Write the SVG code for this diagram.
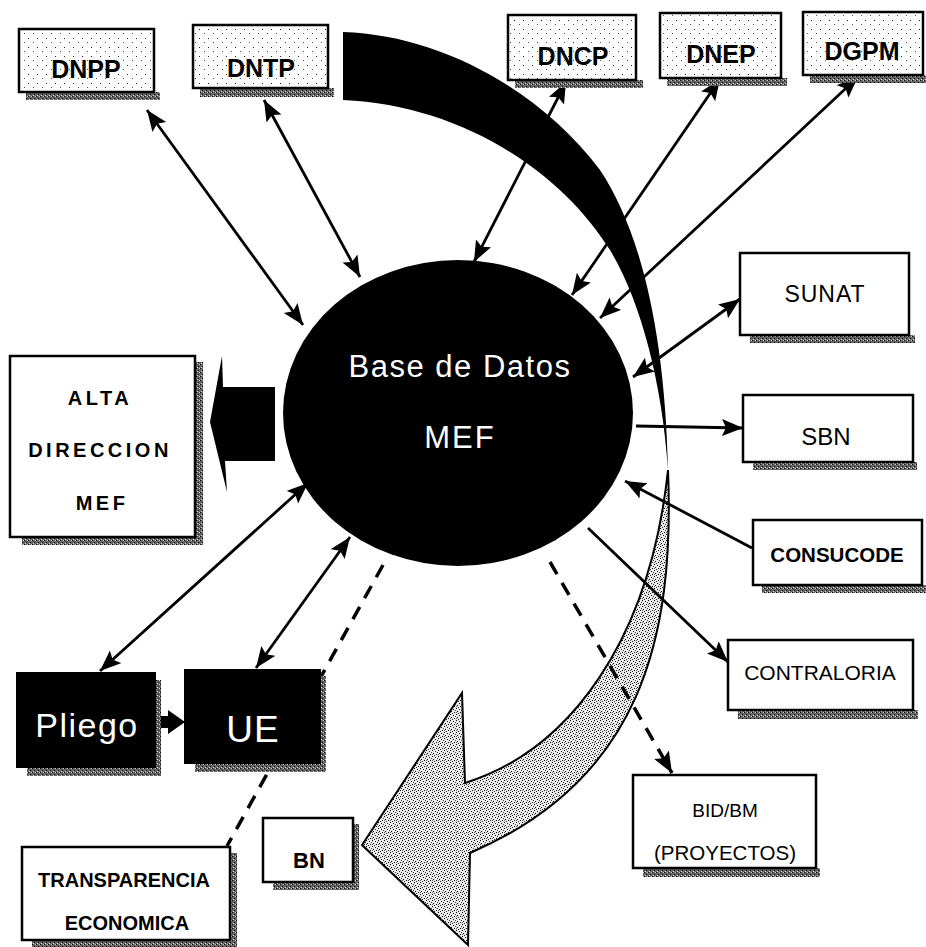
<svg xmlns="http://www.w3.org/2000/svg" width="926" height="947" viewBox="0 0 926 947">
<style>
.box{fill:#fff;stroke:#000;stroke-width:2.5}
.sbox{fill:url(#speck);stroke:#000;stroke-width:2.5}
.dark{fill:#000;stroke:#000;stroke-width:2}
.shadow{fill:url(#shade)}
.lbl{font-family:"Liberation Sans",Arial,sans-serif;fill:#000;text-anchor:middle}
.b{font-weight:bold}
.wt{font-family:"Liberation Sans",Arial,sans-serif;fill:#fff;text-anchor:middle}
.con{stroke:#000;stroke-width:2.8;fill:none}
.dash{stroke:#000;stroke-width:3.5;fill:none;stroke-dasharray:14 10}
</style>
<defs>
<marker id="ah" markerUnits="userSpaceOnUse" markerWidth="24" markerHeight="20" refX="21" refY="8.5" orient="auto-start-reverse">
<path d="M0,0 L21,8.5 L0,17 L4,8.5 z" fill="#000"/>
</marker>
<pattern id="speck" width="9" height="9" patternUnits="userSpaceOnUse">
<rect width="9" height="9" fill="#fff"/>
<rect x="1" y="2" width="1" height="1" fill="#222"/>
<rect x="6" y="6" width="1" height="1" fill="#555"/>
</pattern>
<pattern id="grain" width="6" height="6" patternUnits="userSpaceOnUse">
<rect width="6" height="6" fill="#e8e8e8"/>
<rect x="0" y="0" width="1" height="1" fill="#000"/>
<rect x="3" y="1" width="1" height="1" fill="#222"/>
<rect x="1" y="3" width="1" height="1" fill="#111"/>
<rect x="4" y="4" width="1" height="1" fill="#000"/>
<rect x="5" y="2" width="1" height="1" fill="#444"/>
<rect x="2" y="5" width="1" height="1" fill="#333"/>
<rect x="0" y="4" width="1" height="1" fill="#666"/>
</pattern>
<pattern id="shade" width="4" height="4" patternUnits="userSpaceOnUse">
<rect width="4" height="4" fill="#666"/>
<rect x="0" y="0" width="1" height="1" fill="#000"/>
<rect x="2" y="2" width="1" height="1" fill="#000"/>
<rect x="3" y="0" width="1" height="1" fill="#ccc"/>
<rect x="1" y="3" width="1" height="1" fill="#ddd"/>
</pattern>
</defs>

<g id="ribbon">
<path d="M343,32 C440,35 540,90 600,170 C640,230 665,330 668,470 C662,380 640,300 610,250 C560,170 460,105 343,100 Z" fill="#000"/>
<path d="M668,470 C675,640 640,780 470,853 L468,945 L362,845 L462,693 L465,783 C570,750 650,640 668,470 Z" fill="url(#grain)" stroke="#000" stroke-width="2"/>
</g>

<g id="connectors">
<line class="con" x1="303" y1="325" x2="147" y2="110" marker-start="url(#ah)" marker-end="url(#ah)"/>
<line class="con" x1="360" y1="277" x2="264" y2="100" marker-start="url(#ah)" marker-end="url(#ah)"/>
<line class="con" x1="474" y1="262" x2="566" y2="82" marker-start="url(#ah)" marker-end="url(#ah)"/>
<line class="con" x1="572" y1="295" x2="720" y2="79" marker-start="url(#ah)" marker-end="url(#ah)"/>
<line class="con" x1="600" y1="318" x2="858" y2="77" marker-start="url(#ah)" marker-end="url(#ah)"/>
<line class="con" x1="633" y1="377" x2="740" y2="299" marker-start="url(#ah)" marker-end="url(#ah)"/>
<line class="con" x1="636" y1="426" x2="743" y2="428" marker-end="url(#ah)"/>
<line class="con" x1="752" y1="548" x2="625" y2="481" marker-end="url(#ah)"/>
<line class="con" x1="588" y1="528" x2="728" y2="662" marker-end="url(#ah)"/>
<line class="dash" x1="550" y1="562" x2="672" y2="773" marker-end="url(#ah)"/>
<line class="con" x1="350" y1="537" x2="256" y2="668" marker-start="url(#ah)" marker-end="url(#ah)"/>
<line class="con" x1="308" y1="483" x2="100" y2="671" marker-start="url(#ah)" marker-end="url(#ah)"/>
<line class="dash" x1="383" y1="565" x2="227" y2="846"/>
<path d="M155,716 L168,716 L168,710 L185,722 L168,734 L168,728 L155,728 Z" fill="#000"/>
<path d="M275,387 L223,387 L222,356 L210,422 L227,492 L225,461 L275,461 Z" fill="#000"/>
</g>

<g id="base-datos">
<ellipse cx="458" cy="413" rx="175" ry="153" fill="#000"/>
<text class="wt" x="460" y="377" font-size="31" letter-spacing="1.5">Base de Datos</text>
<text class="wt" x="460" y="448" font-size="31" letter-spacing="2">MEF</text>
</g>

<g id="dnpp"><rect class="shadow" x="26" y="92" width="134" height="8"/><rect class="sbox" x="19" y="29" width="135" height="63"/><text class="lbl b" x="86" y="78" font-size="25">DNPP</text></g>
<g id="dntp"><rect class="shadow" x="200" y="88" width="134" height="9"/><rect class="sbox" x="193" y="25" width="135" height="63"/><text class="lbl b" x="261" y="77" font-size="25">DNTP</text></g>
<g id="dncp"><rect class="shadow" x="515" y="80" width="128" height="8"/><rect class="sbox" x="508" y="15" width="128" height="65"/><text class="lbl b" x="573" y="65" font-size="25">DNCP</text></g>
<g id="dnep"><rect class="shadow" x="667" y="78" width="120" height="8"/><rect class="sbox" x="660" y="13" width="121" height="65"/><text class="lbl b" x="721" y="63" font-size="25">DNEP</text></g>
<g id="dgpm"><rect class="shadow" x="810" y="75" width="116" height="8"/><rect class="sbox" x="803" y="12" width="120" height="63"/><text class="lbl b" x="862" y="60" font-size="25">DGPM</text></g>

<g id="sunat"><rect class="shadow" x="750" y="335" width="165" height="8"/><rect class="box" x="740" y="253" width="169" height="82"/><text class="lbl" x="825" y="302" font-size="23" letter-spacing="1">SUNAT</text></g>
<g id="sbn"><rect class="shadow" x="753" y="462" width="164" height="8"/><rect class="box" x="743" y="395" width="170" height="67"/><text class="lbl" x="826" y="445" font-size="24">SBN</text></g>
<g id="consucode"><rect class="shadow" x="762" y="585" width="164" height="8"/><rect class="box" x="753" y="520" width="169" height="65"/><text class="lbl b" x="837" y="562" font-size="20.5">CONSUCODE</text></g>
<g id="contraloria"><rect class="shadow" x="738" y="710" width="180" height="9"/><rect class="box" x="728" y="640" width="185" height="70"/><text class="lbl" x="820" y="680" font-size="21">CONTRALORIA</text></g>
<g id="bidbm"><rect class="shadow" x="643" y="868" width="177" height="9"/><rect class="box" x="633" y="775" width="183" height="93"/><text class="lbl" x="725" y="817" font-size="19">BID/BM</text><text class="lbl" x="725" y="860" font-size="20.5">(PROYECTOS)</text></g>
<g id="alta-direccion"><rect class="shadow" x="195" y="362" width="8" height="183"/><rect class="shadow" x="22" y="537" width="180" height="8"/><rect class="box" x="10" y="356" width="185" height="181"/><text class="lbl b" x="100" y="405" font-size="20" letter-spacing="3.5">ALTA</text><text class="lbl b" x="100" y="457" font-size="20" letter-spacing="3.5">DIRECCION</text><text class="lbl b" x="102" y="510" font-size="20" letter-spacing="3.5">MEF</text></g>
<g id="pliego"><rect class="shadow" x="27" y="767" width="132" height="9"/><rect class="shadow" x="155" y="680" width="6" height="96"/><rect class="dark" x="17" y="673" width="138" height="94"/><text class="wt" x="87" y="737" font-size="34" letter-spacing="1.5">Pliego</text></g>
<g id="ue"><rect class="shadow" x="195" y="763" width="131" height="9"/><rect class="shadow" x="320" y="676" width="6" height="96"/><rect class="dark" x="185" y="670" width="135" height="93"/><text class="wt" x="253" y="742" font-size="37" letter-spacing="1">UE</text></g>
<g id="bn"><rect class="shadow" x="273" y="882" width="86" height="8"/><rect class="shadow" x="353" y="824" width="6" height="66"/><rect class="box" x="263" y="818" width="90" height="64"/><text class="lbl b" x="309" y="868" font-size="22">BN</text></g>
<g id="transparencia"><rect class="shadow" x="32" y="940" width="205" height="7"/><rect class="shadow" x="230" y="853" width="7" height="94"/><rect class="box" x="22" y="847" width="208" height="93"/><text class="lbl b" x="124" y="887" font-size="20">TRANSPARENCIA</text><text class="lbl b" x="127" y="930" font-size="20">ECONOMICA</text></g>
</svg>
